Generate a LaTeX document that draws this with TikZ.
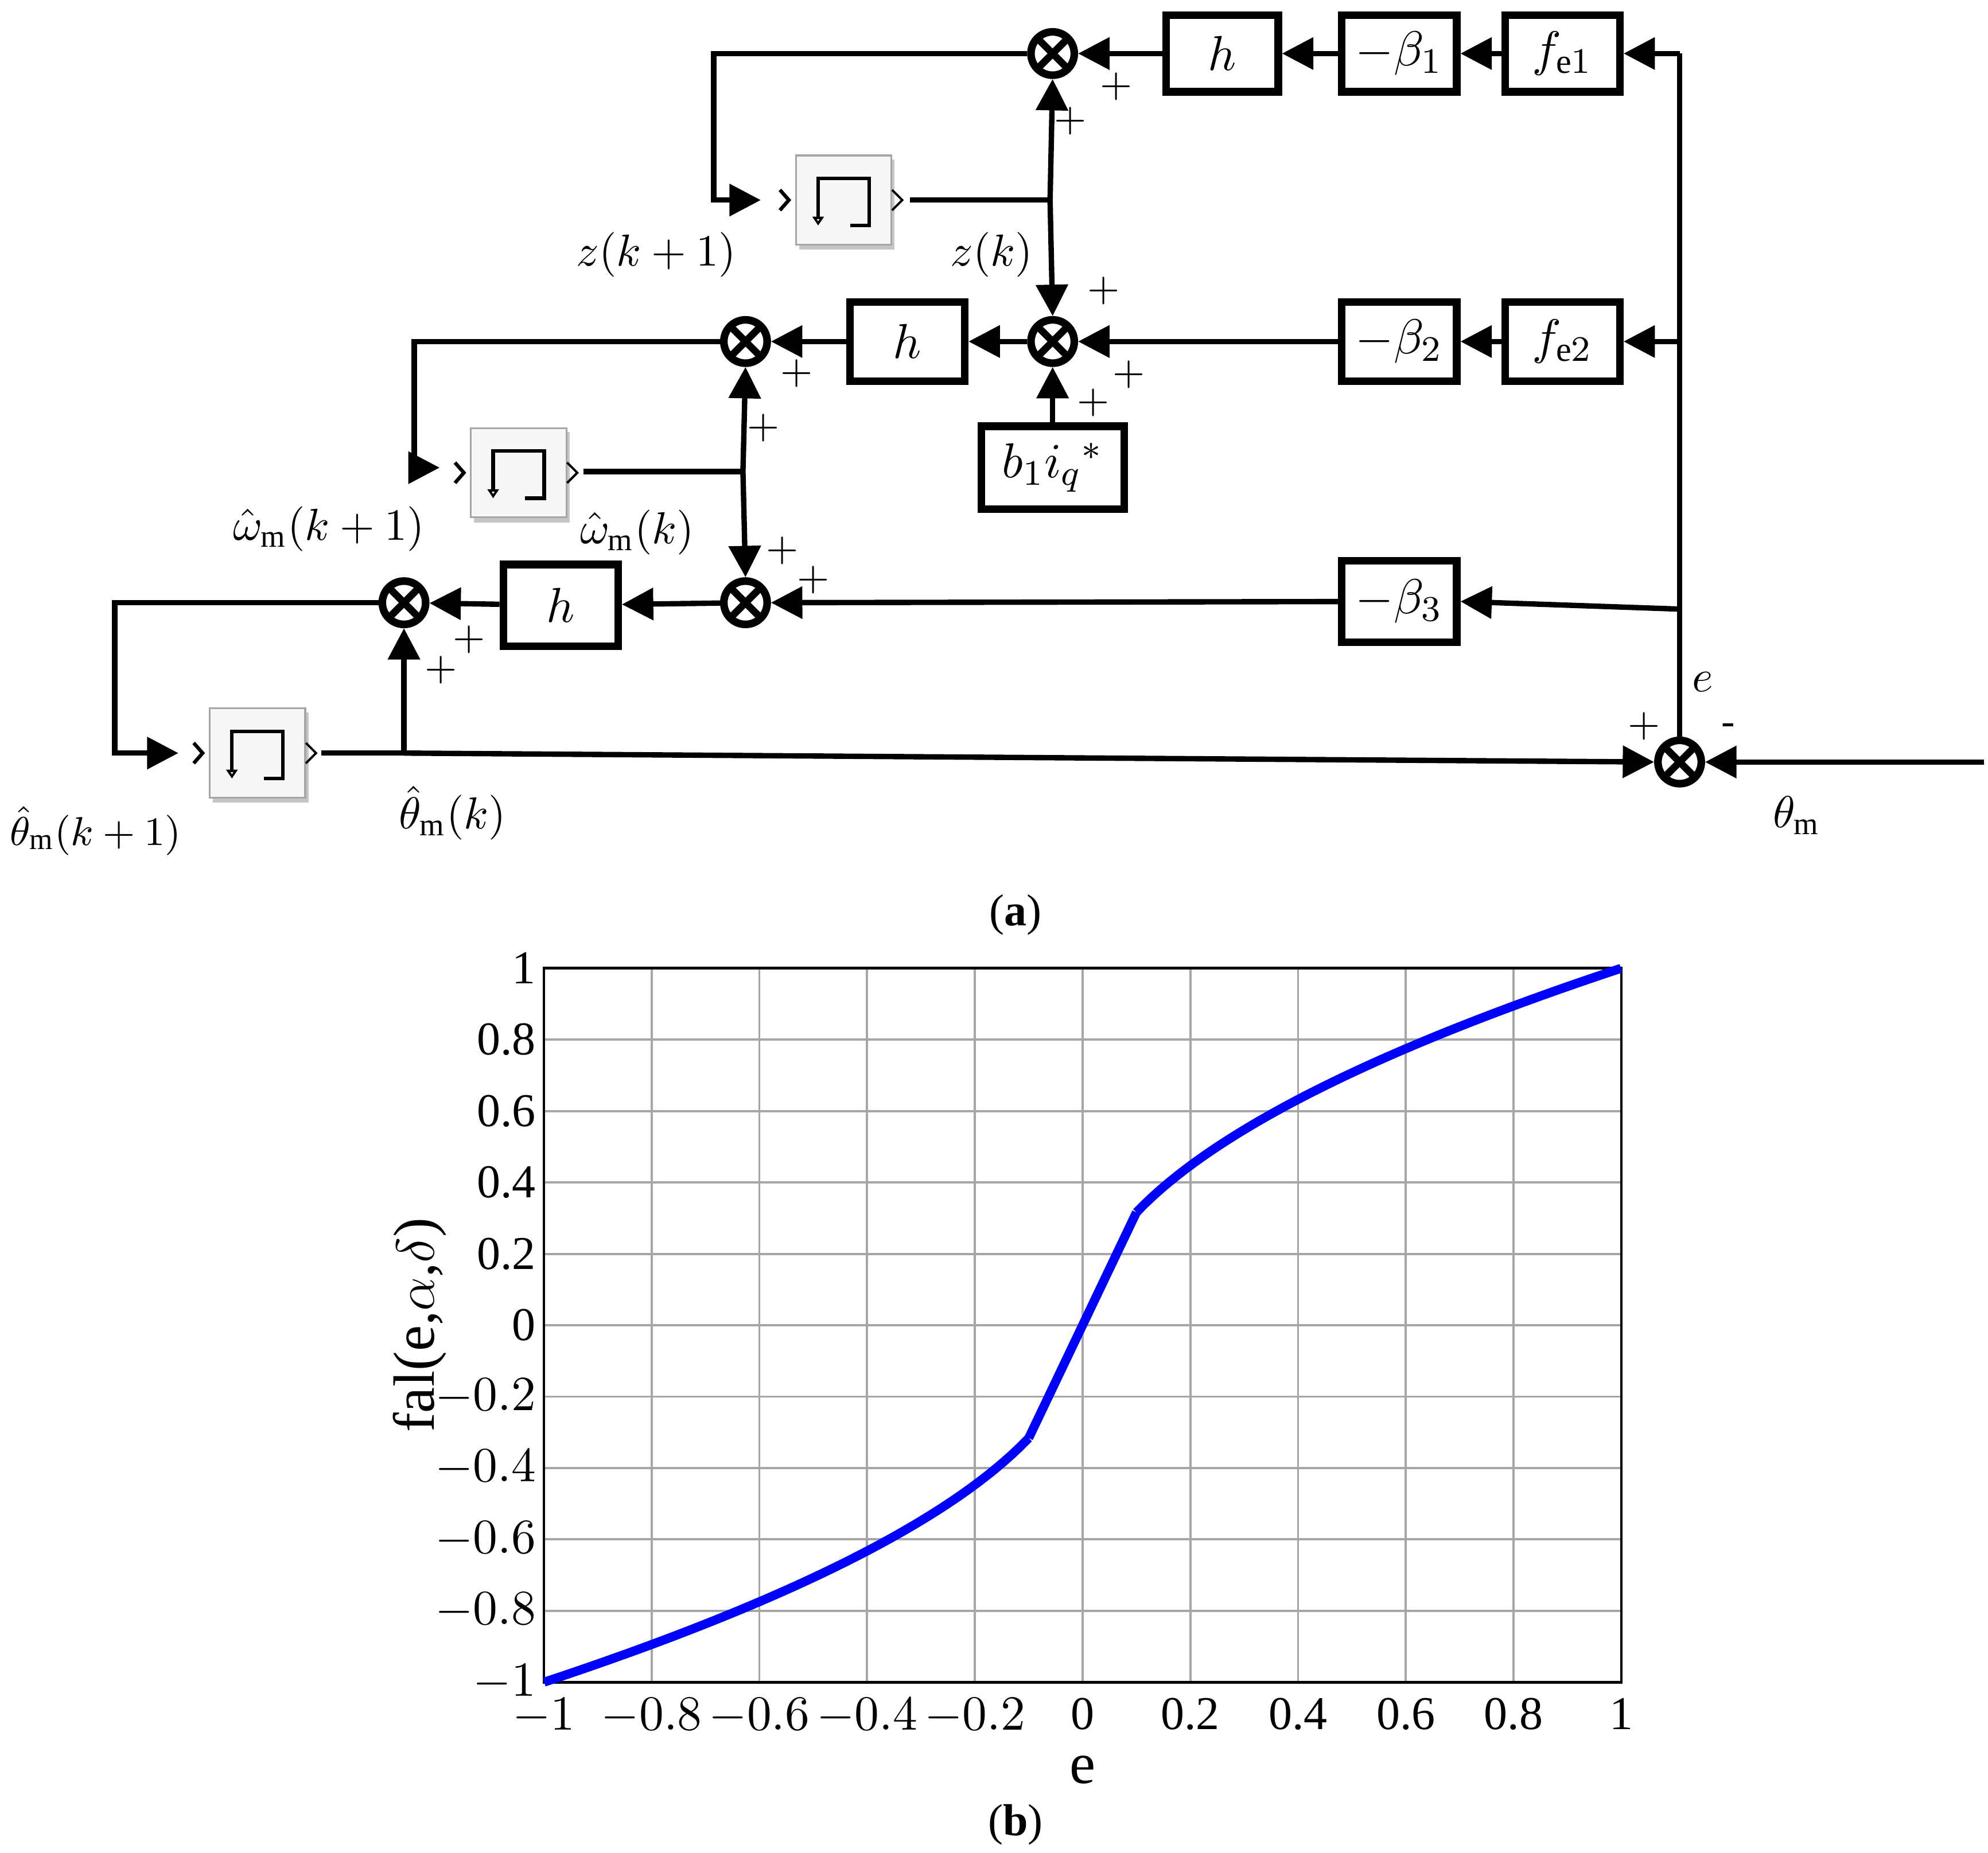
\documentclass[tikz,border=0pt]{standalone}
\usepackage{fontspec}
\setmainfont{Liberation Serif}
\usetikzlibrary{arrows.meta}
\begin{document}
\begin{tikzpicture}[x=0.01cm,y=-0.01cm,
  ln/.style={line width=1.2pt},
  ar/.style={line width=1.2pt,-{Triangle[length=7pt,width=7pt]}},
  blk/.style={draw,line width=1.7pt,inner sep=0pt,font=\fontsize{11}{12}\selectfont},
  sm/.style={circle,draw,line width=1.7pt,minimum size=0.34cm,inner sep=0pt,path picture={\draw[line width=1.6pt] (path picture bounding box.north west)--(path picture bounding box.south east) (path picture bounding box.south west)--(path picture bounding box.north east);}},
  dl/.style={draw=gray!70,fill=gray!6,minimum width=0.75cm,minimum height=0.7cm,inner sep=0pt},
  lb/.style={font=\fontsize{10}{12}\selectfont},
  pl/.style={font=\fontsize{9}{10}\selectfont}]
\useasboundingbox (0,0) rectangle (1560,1454);
\node[sm] (S1) at (826,42) {};
\node[blk,minimum width=0.88cm,minimum height=0.6cm] (h1) at (959,42) {$h$};
\node[blk,minimum width=0.9cm,minimum height=0.6cm] (b1) at (1098,42) {$-\beta_1$};
\node[blk,minimum width=0.9cm,minimum height=0.6cm] (f1) at (1226,42) {$f_{\mathrm{e}1}$};
\node[sm] (S2) at (826,268) {};
\node[blk,minimum width=0.9cm,minimum height=0.62cm] (h2) at (712,268) {$h$};
\node[blk,minimum width=0.9cm,minimum height=0.62cm] (b2) at (1098,268) {$-\beta_2$};
\node[blk,minimum width=0.9cm,minimum height=0.62cm] (f2) at (1226,268) {$f_{\mathrm{e}2}$};
\node[blk,minimum width=1.12cm,minimum height=0.65cm] (bi) at (826,367) {$b_1 i_q{}^{*}$};
\node[sm] (S3) at (585,268) {};
\node[sm] (S4) at (585,473) {};
\node[blk,minimum width=0.9cm,minimum height=0.64cm] (h3) at (440,475) {$h$};
\node[blk,minimum width=0.9cm,minimum height=0.64cm] (b3) at (1098,472) {$-\beta_3$};
\node[sm] (S5) at (317,473) {};
\node[sm] (S6) at (1318,598) {};
\foreach \n/\cx/\cy in {D1/662/157,D2/407/371,D3/202/591}{
  \fill[gray!45] (\cx-35,\cy-32) rectangle (\cx+40,\cy+39);
  \node[dl] (\n) at (\cx,\cy) {};
  \draw[line width=0.8pt] (\cx-20,\cy+15)--(\cx-20,\cy-17)--(\cx+20,\cy-17)--(\cx+20,\cy+20)--(\cx+5,\cy+20);
  \draw[line width=0.5pt,-{Triangle[length=2pt,width=2.5pt,open]}] (\cx-20,\cy+14)--(\cx-20,\cy+20);
  \draw[line width=0.8pt] (\cx-50,\cy-8)--(\cx-43,\cy)--(\cx-50,\cy+8);
  \draw[line width=0.5pt] (\cx+38,\cy-8)--(\cx+46,\cy)--(\cx+38,\cy+8);
}
\coordinate (E) at (1318,42);
\coordinate (E2) at (1318,268);
\coordinate (E3) at (1318,478);
\coordinate (in) at (1557,598);
\draw[ln] (S6.north)--(E);
\draw[ar] (E)--(f1); \draw[ar] (f1)--(b1); \draw[ar] (b1)--(h1); \draw[ar] (h1)--(S1);
\coordinate (c1) at (560,42); \coordinate (c2) at (560,157);
\draw[ar] (S1.west)--(c1)--(c2)--(597,157);
\coordinate (j1) at (824,157);
\draw[ln] (714,157)--(j1);
\draw[ar] (j1)--(S1.south); \draw[ar] (j1)--(S2.north);
\draw[ar] (E2)--(f2); \draw[ar] (f2)--(b2); \draw[ar] (b2)--(S2);
\draw[ar] (bi)--(S2); \draw[ar] (S2)--(h2); \draw[ar] (h2)--(S3);
\coordinate (c3) at (325,268); \coordinate (c4) at (325,367);
\draw[ar] (S3.west)--(c3)--(c4)--(345,367);
\coordinate (j2) at (583,370);
\draw[ln] (458,370)--(j2);
\draw[ar] (j2)--(S3.south); \draw[ar] (j2)--(S4.north);
\draw[ar] (E3)--(b3.east); \draw[ar] (b3)--(S4); \draw[ar] (S4)--(h3); \draw[ar] (h3)--(S5);
\coordinate (c5) at (90,473); \coordinate (c6) at (90,591);
\draw[ar] (S5.west)--(c5)--(c6)--(140,591);
\coordinate (j3) at (317,591);
\draw[ln] (252,591)--(j3);
\draw[ar] (j3)--(S6.west);
\draw[ar] (j3)--(S5.south);
\draw[ar] (in)--(S6.east);
\node[pl] at (876,68) {$+$}; \node[pl] at (840,95) {$+$};
\node[pl] at (866,228) {$+$}; \node[pl] at (886,294) {$+$}; \node[pl] at (858,316) {$+$};
\node[pl] at (625,293) {$+$}; \node[pl] at (599,336) {$+$};
\node[pl] at (614,432) {$+$}; \node[pl] at (638,455) {$+$};
\node[pl] at (368,502) {$+$}; \node[pl] at (346,526) {$+$};
\node[pl] at (1290,570) {$+$}; \node[pl] at (1356,572) {-};
\node[lb] at (515,200) {$z(k+1)$};
\node[lb] at (778,200) {$z(k)$};
\node[lb] at (258,415) {$\hat{\omega}_{\mathrm{m}}(k+1)$};
\node[lb] at (500,418) {$\hat{\omega}_{\mathrm{m}}(k)$};
\node[lb,font=\fontsize{9.5}{11}\selectfont] at (75,652) {$\hat{\theta}_{\mathrm{m}}(k+1)$};
\node[lb] at (355,638) {$\hat{\theta}_{\mathrm{m}}(k)$};
\node[lb] at (1336,535) {$e$};
\node[lb] at (1410,640) {$\theta_{\mathrm{m}}$};
\node[lb] at (797,718) {(\textbf{a})};
\begin{scope}[shift={(849.5,1040)},x=4.225cm,y=2.8cm]
\foreach \i in {-1,-0.8,...,1.01}{\draw[gray!70,line width=0.5pt] (\i,-1)--(\i,1);}
\foreach \i in {-1,-0.8,...,1.01}{\draw[gray!70,line width=0.5pt] (-1,\i)--(1,\i);}
\draw[line width=0.6pt] (-1,-1) rectangle (1,1);
\draw[blue,line width=2pt,domain=0.1:1,samples=60] plot (\x,{sqrt(\x)});
\draw[blue,line width=2pt,domain=0.1:1,samples=60] plot (-\x,{-sqrt(\x)});
\draw[blue,line width=2pt] (-0.1,-0.3162)--(0.1,0.3162);
\foreach \v/\t in {-1/$-1$,-0.8/$-0.8$,-0.6/$-0.6$,-0.4/$-0.4$,-0.2/$-0.2$,0/0,0.2/0.2,0.4/0.4,0.6/0.6,0.8/0.8,1/1}{
  \node[font=\fontsize{10.5}{12}\selectfont,anchor=north,inner sep=1pt] at (\v,-1.03) {\t};
  \node[font=\fontsize{10.5}{12}\selectfont,anchor=east,inner sep=1pt] at (-1.005,\v) {\t};}
\node[font=\fontsize{13}{14}\selectfont] at (0,-1.245) {e};
\node[font=\fontsize{13}{14}\selectfont,rotate=90] at (-1.23,0) {fal(e,$\alpha$,$\delta$)};
\end{scope}
\node[lb] at (797,1432) {(\textbf{b})};
\end{tikzpicture}
\end{document}
